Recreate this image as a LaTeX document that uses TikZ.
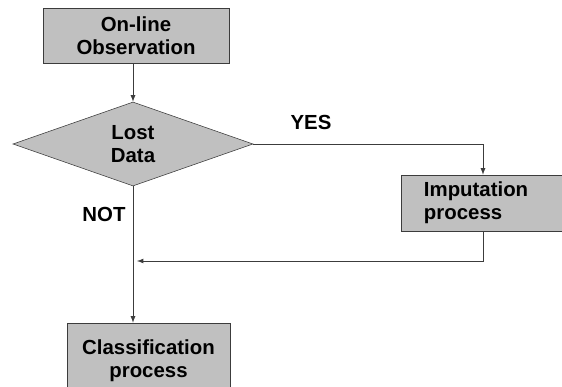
\documentclass[tikz,border=0pt]{standalone}
\usepackage{fontspec}
\setmainfont{Liberation Sans}
\usetikzlibrary{shapes.geometric}
\definecolor{boxgray}{RGB}{192,192,192}
\definecolor{edgegray}{RGB}{60,60,60}
\begin{document}
\begin{tikzpicture}[x=0.025cm,y=-0.025cm,>=latex,
  box/.style={draw=edgegray,fill=boxgray,align=center,inner sep=0pt,
    font=\bfseries\fontsize{14.5}{16.5}\selectfont},
  decision/.style={draw=edgegray,fill=boxgray,diamond,aspect=2.86,inner sep=0pt,
    minimum width=6cm,minimum height=2.1cm,align=center,
    font=\bfseries\fontsize{14.5}{16.5}\selectfont},
  lbl/.style={font=\bfseries\fontsize{14.5}{16.5}\selectfont},
  link/.style={draw=edgegray,line width=0.6pt}]
\useasboundingbox (0,0) rectangle (562,387);
\clip (0,0) rectangle (562,387);

\node [box,minimum width=4.65cm,minimum height=1.375cm] (obs) at (136,35.5) {On-line\\Observation};
\node [decision] (lost) at (133,144) {Lost\\Data};
\node [box,minimum width=4.1cm,minimum height=1.4cm,text width=2.95cm,align=left,inner xsep=0.575cm] (imp) at (483,203) {Imputation\\process};
\node [box,minimum width=4.075cm,minimum height=1.9cm] (cls) at (148.5,361) {Classification\\process};
\coordinate (join) at (137,261);

\draw [link,->] (lost.north |- obs.south) -- (lost.north);
\draw [link,->] (lost.east) -| (imp.north);
\draw [link,->] (imp.south) |- (join);
\draw [link,->] (lost.south) -- (lost.south |- cls.north);

\node [lbl] at (311,122) {YES};
\node [lbl] at (104,214) {NOT};
\end{tikzpicture}
\end{document}
